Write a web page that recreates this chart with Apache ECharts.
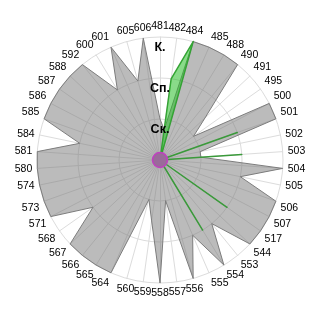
<!DOCTYPE html>
<html><head><meta charset="utf-8">
<script src="https://cdn.jsdelivr.net/npm/echarts@6/dist/echarts.min.js"></script>
<style>html,body{margin:0;padding:0;background:#fff}#c{width:320px;height:320px}</style>
</head><body><div id="c"></div>
<script>
const categories = ['481','482','484','485','488','490','491','495','500','501','502','503','504','505','506','507','517','544','553','554','555','556','557','558','559','560','564','565','566','567','568','571','573','574','580','581','584','585','586','587','588','592','600','601','605','606'];
const grayValues = [1,0.75,3,3,3,3,1.5,1,3,3,1,1,3,2,3,3,3,3,2,3,2,3,1,3,1.5,1,3,3,3,3,2,3,3,3,3,3,2,3,3,3,3,3,2,3,2,3];
const greenValues = [0,2,3,0,0,0,0,0,0,2,0,2,0,0,0,0,2,0,0,2,0,0,0,0,0,0,0,0,0,0,0,0,0,0,0,0,0,0,0,0,0,0,0,0,0,0];
const radialLabels = ['', 'Ск.', 'Сп.', 'К.'];
const highlightCategory = '481';
const centerPoint = [[0, 0]];

const ccw = a => [a[0]].concat(a.slice(1).reverse());
const chart = echarts.init(document.getElementById('c'), null, {renderer: 'canvas'});
const font = 'Liberation Sans, Arial, sans-serif';
chart.setOption({
  animation: false,
  backgroundColor: '#fff',
  radar: {
    center: ['50%', '50%'], radius: 123, startAngle: 90, shape: 'circle', splitNumber: 3,
    indicator: ccw(categories).map(n => ({name: n, min: 0, max: 3})),
    axisName: {show: false},
    axisLine: {lineStyle: {color: '#dcdcdc', width: 1}},
    splitLine: {lineStyle: {color: '#dcdcdc', width: 1}},
    splitArea: {show: false},
    axisTick: {show: false},
    axisLabel: {show: false}
  },
  polar: {center: ['50%', '50%'], radius: 123},
  angleAxis: {
    type: 'category', data: categories, startAngle: 90, clockwise: true, boundaryGap: false,
    axisLine: {show: false}, axisTick: {show: false}, splitLine: {show: false},
    axisLabel: {interval: 0, margin: 5, fontSize: 10.5, fontFamily: font,
      color: v => v === highlightCategory ? '#8b1414' : '#000'}
  },
  radiusAxis: {
    min: 0, max: 3, interval: 1, z: 10,
    axisLine: {show: false}, axisTick: {show: false}, splitLine: {show: false},
    axisLabel: {margin: 0, align: 'center', verticalAlign: 'top', fontSize: 12.5, fontWeight: 'bold',
      padding: [4, 0, 0, 0],
      fontFamily: font, color: '#000', formatter: v => radialLabels[v] || ''}
  },
  series: [
    {type: 'radar', symbol: 'none', z: 2, data: [{value: ccw(grayValues)}],
      lineStyle: {color: '#7f7f7f', width: 1}, areaStyle: {color: '#777', opacity: 0.5}},
    {type: 'radar', symbol: 'none', z: 3, data: [{value: ccw(greenValues)}],
      lineStyle: {color: '#3a9a3a', width: 1.5}, areaStyle: {color: 'rgb(40,190,40)', opacity: 0.55}},
    {type: 'scatter', coordinateSystem: 'polar', z: 5, data: centerPoint, symbolSize: 15,
      itemStyle: {color: '#9a6a9a', borderColor: '#c040c0', borderWidth: 1.5, opacity: 1}}
  ]
});
</script></body></html>
